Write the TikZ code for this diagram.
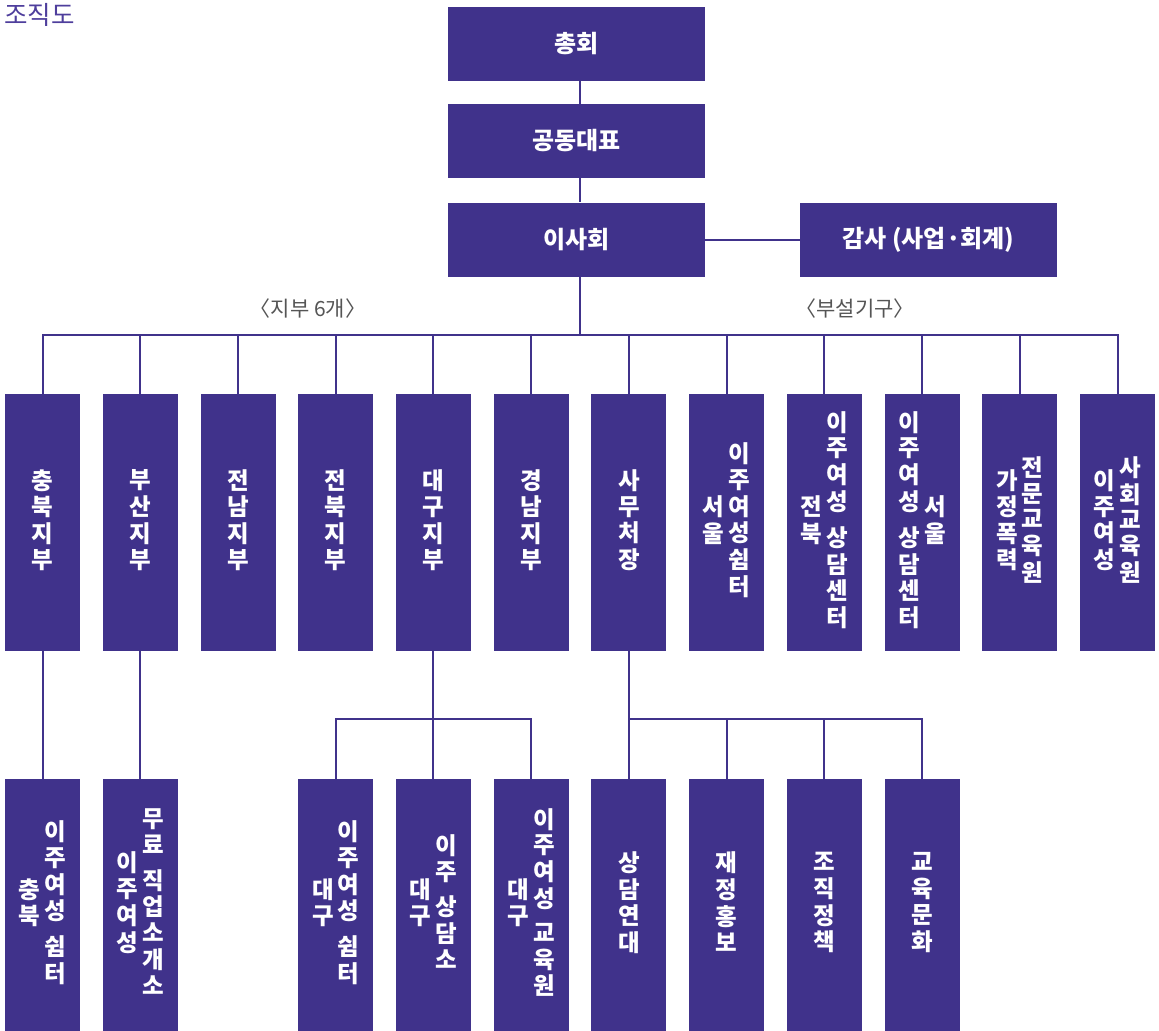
\documentclass[tikz,border=0pt]{standalone}
\usepackage{fontspec}
\setmainfont{Noto Sans CJK KR}
\usetikzlibrary{calc}
\definecolor{org}{RGB}{64,50,139}
\definecolor{ttl}{RGB}{78,62,156}
\definecolor{lab}{RGB}{85,85,85}
\newcommand\vc[1]{\begin{tabular}{@{}c@{}}#1\end{tabular}}
\newcommand\twoc[2]{\vc{#1}\hspace{4bp}\vc{#2}}
\tikzset{
  hbox/.style={fill=org, text=white, minimum width=257bp, minimum height=74bp, inner sep=0pt,
    font=\bfseries\fontsize{24bp}{24.5bp}\selectfont},
  vbox/.style={fill=org, text=white, minimum width=75bp, minimum height=257bp, inner sep=0pt,
    font=\bfseries\fontsize{23.5bp}{23.3bp}\selectfont},
  lbox/.style={vbox, minimum height=252bp},
  link/.style={draw=org, line width=2bp, line join=miter},
  grp/.style={text=lab, font=\fontsize{21bp}{23bp}\selectfont, inner sep=0pt},
}
\begin{document}
\begin{tikzpicture}[x=1bp,y=-1bp]
\useasboundingbox (0,0) rectangle (1159,1031);
\node[anchor=base west, text=ttl, font=\fontsize{25.5bp}{27bp}\selectfont, inner sep=0pt] (title) at (4,24.5) {조직도};
% top level
\node[hbox] (chonghoe) at (576.5,44) {총회};
\node[hbox] (daepyo) at (576.5,141) {공동대표};
\node[hbox] (isahoe) at (576.5,239.5) {이사회};
\node[hbox] (gamsa) at (928.5,239.5) {감사 (사업·회계)};
% group labels
\node[grp] (jibu) at (308,309) {〈지부 6개〉};
\node[grp] (buseol) at (855,309) {〈부설기구〉};
% second level
\node[vbox] (b1) at (42.5,522.5) {\vc{충\\북\\지\\부}};
\node[vbox] (b2) at (140.2,522.5) {\vc{부\\산\\지\\부}};
\node[vbox] (b3) at (238.0,522.5) {\vc{전\\남\\지\\부}};
\node[vbox] (b4) at (335.7,522.5) {\vc{전\\북\\지\\부}};
\node[vbox] (b5) at (433.4,522.5) {\vc{대\\구\\지\\부}};
\node[vbox] (b6) at (531.2,522.5) {\vc{경\\남\\지\\부}};
\node[vbox] (b7) at (628.9,522.5) {\vc{사\\무\\처\\장}};
\node[vbox] (b8) at (726.6,522.5) {\twoc{서\\울}{이\\주\\여\\성\\쉼\\터}};
\node[vbox] (b9) at (824.3,522.5) {\twoc{전\\북}{이\\주\\여\\성\\[9bp]상\\담\\센\\터}};
\node[vbox] (b10) at (922.1,522.5) {\twoc{이\\주\\여\\성\\[9bp]상\\담\\센\\터}{서\\울}};
\node[vbox] (b11) at (1019.8,522.5) {\twoc{가\\정\\폭\\력}{전\\문\\교\\육\\원}};
\node[vbox] (b12) at (1117.5,522.5) {\twoc{이\\주\\여\\성}{사\\회\\교\\육\\원}};
% third level
\node[lbox] (c1) at (42.5,905) {\twoc{충\\북}{이\\주\\여\\성\\[9bp]쉼\\터}};
\node[lbox] (c2) at (140.2,905) {\twoc{이\\주\\여\\성}{무\\료\\[9bp]직\\업\\소\\개\\소}};
\node[lbox] (c4) at (335.7,905) {\twoc{대\\구}{이\\주\\여\\성\\[9bp]쉼\\터}};
\node[lbox] (c5) at (433.4,905) {\twoc{대\\구}{이\\주\\[9bp]상\\담\\소}};
\node[lbox] (c6) at (531.2,905) {\twoc{대\\구}{이\\주\\여\\성\\[9bp]교\\육\\원}};
\node[lbox] (c7) at (628.9,905) {\vc{상\\담\\연\\대}};
\node[lbox] (c8) at (726.6,905) {\vc{재\\정\\홍\\보}};
\node[lbox] (c9) at (824.3,905) {\vc{조\\직\\정\\책}};
\node[lbox] (c10) at (922.1,905) {\vc{교\\육\\문\\화}};
% connectors
\coordinate (spine) at (580,0);
\coordinate (bus) at (0,335);
\coordinate (bus2) at (0,718.5);
\draw[link] (chonghoe.south -| spine) -- (daepyo.north -| spine);
\draw[link] (daepyo.south -| spine) -- (isahoe.north -| spine);
\draw[link] (isahoe.east) -- (gamsa.west);
\draw[link] (isahoe.south -| spine) -- (bus -| spine);
\draw[link] (b1.north) -- (b1 |- bus) -- (b12 |- bus) -- (b12.north);
\foreach \n in {b2,b3,b4,b5,b6,b7,b8,b9,b10,b11}
  \draw[link] (\n |- bus) -- (\n.north);
\draw[link] (b1.south) -- (c1.north);
\draw[link] (b2.south) -- (c2.north);
\draw[link] (b5.south) -- (b5 |- bus2);
\draw[link] (c4.north) -- (c4 |- bus2) -- (c6 |- bus2) -- (c6.north);
\draw[link] (c5 |- bus2) -- (c5.north);
\draw[link] (b7.south) -- (c7.north);
\draw[link] (c10.north) -- (c10 |- bus2) -- (c7 |- bus2);
\draw[link] (c8 |- bus2) -- (c8.north);
\draw[link] (c9 |- bus2) -- (c9.north);
\end{tikzpicture}
\end{document}
